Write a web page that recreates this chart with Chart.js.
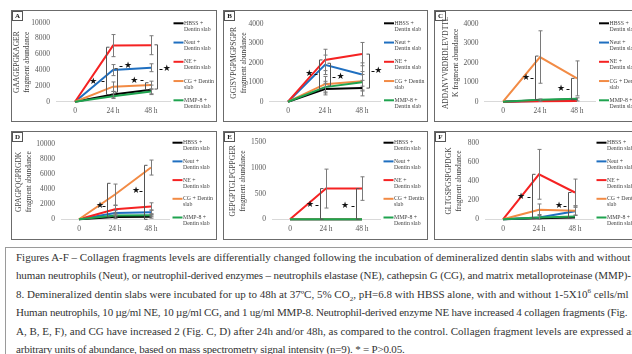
<!DOCTYPE html>
<html>
<head>
<meta charset="utf-8">
<script src="https://cdn.jsdelivr.net/npm/chart.js@4/dist/chart.umd.min.js"></script>
<style>
  body { margin: 0; width: 632px; height: 354px; overflow: hidden; background: #fff; position: relative; font-family: "Liberation Serif", serif; }
  .panel { position: absolute; border: 1px solid #6b6b6b; box-sizing: border-box; overflow: hidden; background: #fff; }
  .panel canvas { display: block; }
  #caption { position: absolute; left: 5px; top: 247px; width: 720px; height: 130px; border: 1px solid #9a9a9a; box-sizing: border-box; }
  #caption div { position: absolute; left: 10px; white-space: pre; font-size: 11px; color: #333; line-height: 18.4px; }
  #caption sub, #caption sup { font-size: 7px; line-height: 0; }
</style>
</head>
<body>
<div id="panels"></div>
<div id="caption">
<div style="top:0px">Figures A-F – Collagen fragments levels are differentially changed following the incubation of demineralized dentin slabs with and without</div>
<div style="top:18.4px;letter-spacing:-0.13px">human neutrophils (Neut), or neutrophil-derived enzymes – neutrophils elastase (NE), cathepsin G (CG), and matrix metalloproteinase (MMP)-</div>
<div style="top:36.8px">8. Demineralized dentin slabs were incubated for up to 48h at 37ºC, 5% CO<sub>2</sub>, pH=6.8 with HBSS alone, with and without 1-5X10<sup>6</sup> cells/ml</div>
<div style="top:55.2px;letter-spacing:-0.2px">Human neutrophils, 10 µg/ml NE, 10 µg/ml CG, and 1 ug/ml MMP-8. Neutrophil-derived enzyme NE have increased 4 collagen fragments (Fig.</div>
<div style="top:73.6px">A, B, E, F), and CG have increased 2 (Fig. C, D) after 24h and/or 48h, as compared to the control. Collagen fragment levels are expressed as</div>
<div style="top:92px;letter-spacing:-0.2px">arbitrary units of abundance, based on mass spectrometry signal intensity (n=9). * = P&gt;0.05.</div>
</div>

<script>
// tider och etiketter
const hours = [0, 24, 48];
const hourLabels = ["0", "24 h", "48 h"];
const seriesNames = [["HBSS +", "Dentin slab"], ["Neut +", "Dentin slab"], ["NE +", "Dentin slab"], ["CG + Dentin", "slab"], ["MMP-8 +", "Dentin slab"]];
const seriesColors = ["#000000", "#1f6fc0", "#f52222", "#f28b45", "#1fa34f"];
const peptides = [
  ["GAAGEPGKAGER", "fragment abundance"],
  ["GGISVPGPMGPSGPR", "fragment abundance"],
  ["ADDANVVRDRDLEVDTTL", "K fragment abundance"],
  ["GPAGPQGPRGDK", "fragment abundance"],
  ["GEPGPTGLPGPPGER", "fragment abundance"],
  ["GLTGSPGSPGPDGK", "fragment abundance"],
];
const yMax = [10000, 4000, 4000, 10000, 1500, 800];
const yStep = [2000, 1000, 1000, 2000, 500, 200];

// rader: HBSS, Neut, NE, CG, MMP-8
const valuesA = [[0, 900, 1500], [0, 4000, 4300], [0, 7100, 7150], [0, 1900, 2100], [0, 700, 1300]];
const errorsA = [[0, 400, 600], [0, 700, 500], [0, 1400, 1200], [0, 600, 500], [0, 300, 300]];
const valuesB = [[0, 650, 700], [0, 1900, 1400], [0, 2150, 2450], [0, 900, 1050], [0, 750, 1000]];
const errorsB = [[0, 300, 400], [0, 500, 600], [0, 550, 600], [0, 400, 500], [0, 300, 400]];
const valuesC = [[0, 80, 120], [0, 40, 60], [0, 20, 30], [0, 2300, 1200], [0, 100, 150]];
const errorsC = [[0, 60, 80], [0, 0, 0], [0, 0, 0], [0, 1350, 900], [0, 0, 0]];
const valuesD = [[0, 300, 350], [0, 850, 950], [0, 1350, 1700], [0, 3300, 6900], [0, 500, 550]];
const errorsD = [[0, 200, 200], [0, 300, 300], [0, 500, 500], [0, 1400, 1000], [0, 200, 200]];
const valuesE = [[0, 0, 0], [0, 0, 0], [0, 600, 600], [0, 0, 0], [0, 0, 0]];
const errorsE = [[0, 0, 0], [0, 0, 0], [0, 380, 230], [0, 0, 0], [0, 0, 0]];
const valuesF = [[0, 10, 20], [0, 20, 85], [0, 470, 280], [0, 100, 90], [0, 20, 30]];
const errorsF = [[0, 0, 0], [0, 30, 40], [0, 260, 140], [0, 60, 50], [0, 0, 0]];

// klamrar med stjärna: [x (h), topp, botten, stjärna x (h), stjärna y]
const bracketsA = [[19.5, 6900, 900, 11.5, 2600], [26.5, 4200, 1200, 33.5, 4500], [44.5, 2400, 1500, 37.5, 2700], [51.5, 7200, 1600, 58, 4200]];
const bracketsB = [[19.9, 2150, 650, 13.8, 1430], [27.5, 1980, 810, 34, 1270], [52.3, 2450, 700, 58.6, 1580]];
const bracketsC = [[21, 2350, 100, 15, 1220], [44.3, 1200, 100, 37.6, 650]];
const bracketsD = [[18.9, 4800, 300, 14, 1800], [43.3, 7200, 0, 38, 3770]];
const bracketsE = [[20, 600, 0, 13.3, 277], [44, 600, 0, 36.7, 257]];
const bracketsF = [[19.3, 470, 10, 12, 236], [43.1, 280, 10, 37.3, 139]];

// placering av rutorna (canvas-koordinater för ritytan)
const panels = [
  { letter: "A", left: 11, top: 10, w: 206, h: 112, cl: 44, cr: 158, ct: 11.7, cb: 90.7, tpad: 0, ly: 12.3, ls: 19.25, values: valuesA, errors: errorsA, brackets: bracketsA },
  { letter: "B", left: 223, top: 10, w: 205, h: 112, cl: 45.5, cr: 156.5, ct: 13, cb: 90.7, tpad: 4.7, ly: 12.3, ls: 19.25, values: valuesB, errors: errorsB, brackets: bracketsB },
  { letter: "C", left: 434, top: 10, w: 212, h: 112, cl: 49.5, cr: 160.5, ct: 13, cb: 90.7, tpad: 6, ly: 12.3, ls: 19.25, values: valuesC, errors: errorsC, brackets: bracketsC },
  { letter: "D", left: 11, top: 131, w: 206, h: 109, cl: 49, cr: 157, ct: 12.3, cb: 87.3, tpad: 2, ly: 10.7, ls: 18.7, values: valuesD, errors: errorsD, brackets: bracketsD },
  { letter: "E", left: 223, top: 131, w: 205, h: 109, cl: 48, cr: 156, ct: 9.7, cb: 87.3, tpad: 3.7, ly: 10.7, ls: 18.7, values: valuesE, errors: errorsE, brackets: bracketsE },
  { letter: "F", left: 434, top: 131, w: 212, h: 109, cl: 50, cr: 158, ct: 10.7, cb: 87.3, tpad: 9.3, ly: 10.7, ls: 18.7, values: valuesF, errors: errorsF, brackets: bracketsF },
];

// felstaplar, klamrar, bokstav och legend
const extras = {
  id: "extras",
  afterDatasetsDraw(chart) {
    const p = chart.options.plugins.extras.panel;
    const ctx = chart.ctx, xs = chart.scales.x, ys = chart.scales.y;
    ctx.save();
    ctx.strokeStyle = "#7a7a7a";
    ctx.lineWidth = 1;
    p.values.forEach((row, s) => row.forEach((v, i) => {
      const e = p.errors[s][i];
      if (!e) return;
      const px = Math.round(xs.getPixelForValue(hours[i])) + 0.5;
      const y1 = ys.getPixelForValue(v + e);
      const y2 = ys.getPixelForValue(Math.max(v - e, 0));
      ctx.beginPath();
      ctx.moveTo(px, y1); ctx.lineTo(px, y2);
      ctx.moveTo(px - 2, y1); ctx.lineTo(px + 2, y1);
      ctx.moveTo(px - 2, y2); ctx.lineTo(px + 2, y2);
      ctx.stroke();
    }));

    p.brackets.forEach(([bx, top, bot, sx, sy]) => {
      const px = Math.round(xs.getPixelForValue(bx)) + 0.5;
      const dir = sx < bx ? 1 : -1;
      const yt = ys.getPixelForValue(top), yb = ys.getPixelForValue(bot);
      const sxp = xs.getPixelForValue(sx), syp = ys.getPixelForValue(sy);
      ctx.strokeStyle = "#555";
      ctx.beginPath();
      ctx.moveTo(px + dir * 3, yt); ctx.lineTo(px, yt); ctx.lineTo(px, yb); ctx.lineTo(px + dir * 3, yb);
      ctx.stroke();
      ctx.strokeStyle = "#111";
      ctx.beginPath();
      ctx.moveTo(px - dir * 2, Math.round(syp) + 0.5);
      ctx.lineTo(px - dir * 5, Math.round(syp) + 0.5);
      ctx.stroke();
      ctx.fillStyle = "#111";
      ctx.font = "9px 'DejaVu Sans'";
      ctx.textAlign = "center";
      ctx.textBaseline = "middle";
      ctx.fillText("\u2605", sxp, syp);
    });
    ctx.restore();
  },
  afterDraw(chart) {
    const p = chart.options.plugins.extras.panel;
    const ctx = chart.ctx;
    ctx.save();
    // bokstavsruta
    ctx.strokeStyle = "#555";
    ctx.lineWidth = 1;
    ctx.strokeRect(0.5, 0.5, 10, 9);
    ctx.fillStyle = "#222";
    ctx.font = "bold 7px 'Liberation Serif'";
    ctx.textAlign = "center";
    ctx.textBaseline = "middle";
    ctx.fillText(p.letter, 5.5, 5.5);
    // legend till höger
    ctx.textAlign = "left";
    ctx.font = "5.8px 'Liberation Serif'";
    seriesNames.forEach((lines, i) => {
      const yy = p.ly + i * p.ls;
      const x0 = p.cr + 3.5;
      ctx.strokeStyle = seriesColors[i];
      ctx.lineWidth = 2;
      ctx.beginPath();
      ctx.moveTo(x0, yy); ctx.lineTo(x0 + 10, yy);
      ctx.stroke();
      ctx.fillStyle = "#444";
      ctx.fillText(lines[0], x0 + 10.5, yy);
      ctx.fillText(lines[1], x0 + 10.5, yy + 6);
    });
    ctx.restore();
  },
};

const holder = document.getElementById("panels");

panels.forEach((p, k) => {
  const div = document.createElement("div");
  div.className = "panel";
  div.style.left = p.left + "px";
  div.style.top = p.top + "px";
  div.style.width = p.w + "px";
  div.style.height = p.h + "px";
  const canvas = document.createElement("canvas");
  canvas.width = p.w - 2;
  canvas.height = p.h - 2;
  div.appendChild(canvas);
  holder.appendChild(div);

  const cw = p.w - 2, ch = p.h - 2;
  const xh = 14;

  const datasets = p.values.map((row, s) => ({
    label: seriesNames[s].join(" "),
    data: hours.map((hr, i) => ({ x: hr, y: row[i] })),
    borderColor: seriesColors[s],
    borderWidth: 2,
    pointRadius: 0,
    tension: 0,
    fill: false,
    clip: false,
    order: 5 - s,
  }));

  const config = {
    type: "line",
    data: { datasets },
    options: {
      responsive: false,
      animation: false,
      devicePixelRatio: 1,
      layout: { padding: { left: 0, right: cw - p.cr, top: p.ct, bottom: ch - p.cb - xh } },
      plugins: {
        legend: { display: false },
        tooltip: { enabled: false },
        extras: { panel: p },
      },
      scales: {
        x: {
          type: "linear",
          min: -12,
          max: 60,
          afterBuildTicks: (s) => { s.ticks = hours.map((v) => ({ value: v })); },
          afterFit: (s) => { s.height = xh; },
          grid: { display: false, drawTicks: false },
          border: { color: "#d9d9d9", width: 1 },
          ticks: {
            padding: 5,
            autoSkip: false,
            color: "#595959",
            font: { family: "'Liberation Serif'", size: 7.5 },
            maxRotation: 0,
            callback: (v) => hourLabels[hours.indexOf(v)],
          },
        },
        y: {
          min: 0,
          max: yMax[k],
          afterFit: (s) => { s.width = p.cl; },
          grid: { display: false, drawTicks: false },
          border: { display: false },
          ticks: {
            stepSize: yStep[k],
            padding: 6,
            color: "#595959",
            font: { family: "'Liberation Serif'", size: 7.5 },
            callback: (v) => v,
          },
          title: {
            display: true,
            text: peptides[k],
            color: "#404040",
            font: { family: "'Liberation Serif'", size: 7.5, lineHeight: 1.33 },
            padding: { top: p.tpad, bottom: 0 },
          },
        },
      },
    },
    plugins: [extras],
  };

  new Chart(canvas, config);
});
</script>
</body>
</html>
